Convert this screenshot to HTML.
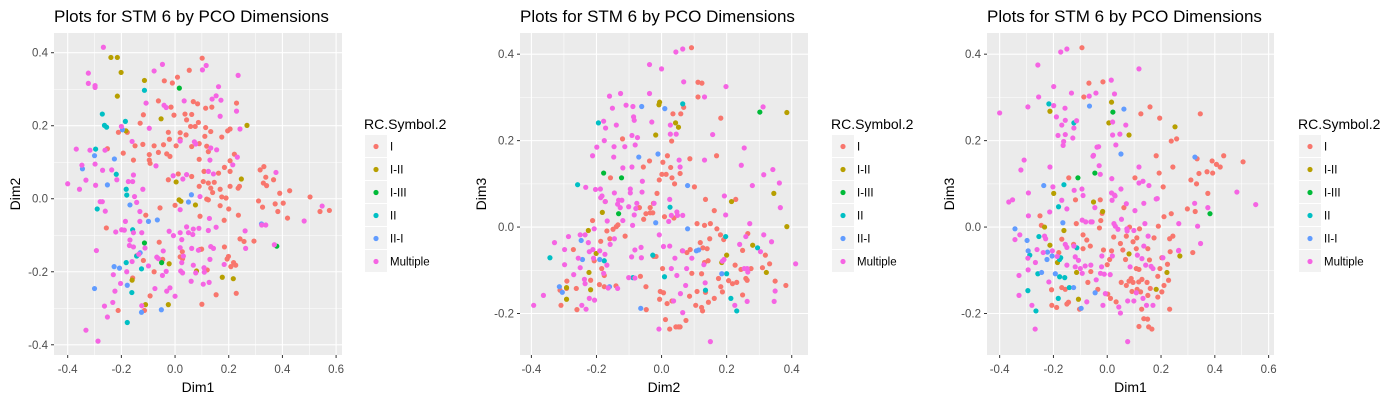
<!DOCTYPE html>
<html><head><meta charset="utf-8">
<style>
html,body{margin:0;padding:0;background:#fff;}
svg{display:block;font-family:"Liberation Sans",Arial,sans-serif;}
</style></head>
<body>
<svg id="chart" width="1400" height="400" viewBox="0 0 1400 400" xmlns="http://www.w3.org/2000/svg"></svg>
<script>
const groups = ["I","I-II","I-III","II","II-I","Multiple"];
const colors = ["#F8766D","#B79F00","#00BA38","#00BFC4","#619CFF","#F564E3"];

// ---- Panel 1: Dim1 vs Dim2 ----
const p1_I = [[0.101,0.385],[0.053,0.352],[0.009,0.333],[-0.04,0.323],[-0.01,0.317],[-0.062,0.268],[-0.015,0.251],[0.068,0.266],[0.084,0.26],[0.114,0.248],[0.137,0.251],[0.229,0.262],[-0.118,0.23],[-0.004,0.229],[0.037,0.232],[0.062,0.231],[0.043,0.216],[0.058,0.198],[0.087,0.209],[0.075,0.198],[0.114,0.195],[-0.13,0.207],[-0.211,0.182],[-0.178,0.182],[-0.025,0.182],[0.019,0.181],[0.041,0.175],[0.111,0.171],[0.133,0.184],[0.174,0.169],[0.196,0.186],[0.205,0.191],[-0.021,0.163],[0.019,0.163],[0.09,0.151],[-0.149,0.145],[-0.12,0.149],[-0.078,0.145],[-0.043,0.148],[0.004,0.145],[0.062,0.143],[0.118,0.144],[-0.193,0.125],[-0.252,0.137],[-0.096,0.121],[-0.062,0.127],[-0.031,0.123],[-0.019,0.116],[0.124,0.129],[0.221,0.122],[-0.155,0.106],[-0.096,0.106],[-0.093,0.097],[0.09,0.108],[0.205,0.104],[0.184,0.086],[0.205,0.075],[0.012,0.068],[0.062,0.061],[0.108,0.075],[0.162,0.07],[-0.025,0.052],[0.09,0.034],[0.105,0.047],[0.124,0.043],[0.146,0.045],[0.133,0.029],[0.14,0.017],[0.168,0.026],[0.205,0.034],[0.24,0.034],[0.235,0.029],[0.118,-0.001],[0.124,-0.003],[0.174,0.005],[0.19,0.002],[0.168,-0.019],[0.2,-0.028],[0,-0.018],[0.093,-0.048],[0.183,-0.059],[0.236,-0.045],[0.317,0.079],[0.331,0.088],[0.338,0.059],[0.329,0.043],[0.341,0.036],[0.367,0.052],[0.39,0.015],[0.427,0.022],[0.311,-0.006],[0.326,-0.023],[0.373,-0.014],[0.403,-0.012],[0.383,-0.035],[0.419,-0.053],[0.503,0.005],[0.54,-0.035],[0.575,-0.032],[0.294,-0.116],[0.242,-0.11],[0.257,-0.117],[-0.256,-0.08],[-0.109,-0.045],[-0.056,-0.025],[-0.143,-0.156],[-0.118,-0.169],[-0.078,-0.2],[-0.093,-0.266],[-0.114,-0.306],[-0.212,-0.306],[-0.158,-0.217],[0.1,-0.289],[0.153,-0.263],[0.228,-0.259],[0.208,-0.186],[0.226,-0.182],[0.218,-0.175],[0.194,-0.165],[0.199,-0.158],[0.184,-0.132],[0.093,-0.139],[0.099,-0.138],[0.12,-0.195],[0.019,-0.159],[0.028,-0.164],[-0.046,-0.166],[-0.059,-0.119],[0.027,-0.145]];
const p1_III = [[-0.239,0.387],[-0.215,0.387],[-0.201,0.346],[-0.215,0.281],[-0.114,0.324],[-0.052,0.219],[0.268,0.201],[0.247,0.054],[0.004,0.046],[0.015,-0.003],[0.022,-0.007],[0.076,-0.017],[0.08,-0.198],[-0.022,-0.178],[0.176,-0.215],[0.217,-0.219],[-0.16,-0.223],[-0.11,-0.29],[-0.025,-0.29],[-0.183,0.186]];
const p1_IIII = [[0.016,0.303],[-0.114,-0.121],[-0.05,-0.175],[0.379,-0.13]];
const p1_II = [[-0.114,0.297],[-0.271,0.232],[-0.263,0.201],[-0.255,0.196],[-0.185,0.212],[-0.296,0.136],[-0.219,0.067],[-0.182,0.026],[-0.18,0.01],[-0.29,-0.028],[-0.158,-0.085],[-0.143,-0.157],[-0.182,-0.175],[-0.125,-0.192],[-0.161,-0.257],[-0.178,-0.339]];
const p1_III2 = [[-0.3,0.118],[-0.226,0.109],[-0.345,0.082],[-0.252,0.038],[-0.196,0.189],[-0.168,-0.017],[-0.099,-0.062],[-0.066,-0.058],[0.061,0.011],[0.05,-0.009],[-0.227,-0.186],[-0.207,-0.19],[-0.178,-0.237],[-0.3,-0.246],[-0.125,-0.311],[-0.051,-0.304],[-0.13,-0.148],[0.322,-0.069]];
const p1_M = [[-0.267,0.415],[-0.323,0.344],[-0.323,0.316],[-0.298,0.31],[-0.298,0.305],[-0.078,0.35],[-0.047,0.368],[0.102,0.353],[0.116,0.365],[0.235,0.338],[-0.108,0.262],[-0.041,0.256],[-0.033,0.25],[0.034,0.268],[0.138,0.273],[0.153,0.282],[0.171,0.27],[0.162,0.307],[0.229,0.24],[0.168,0.226],[0.242,0.191],[-0.2,0.198],[-0.096,0.193],[-0.16,0.157],[-0.368,0.136],[-0.317,0.133],[-0.261,0.133],[0.072,0.156],[0.077,0.15],[0.133,0.139],[0.155,0.134],[0.019,0.158],[-0.347,0.092],[-0.298,0.095],[-0.27,0.078],[-0.236,0.079],[-0.217,0.052],[-0.332,0.051],[-0.4,0.041],[-0.356,0.026],[-0.296,0.037],[-0.071,0.09],[-0.155,0.065],[-0.174,0.047],[-0.158,0.047],[-0.12,0.026],[-0.151,0.006],[-0.143,-0.01],[-0.279,-0.008],[-0.271,-0.008],[-0.26,-0.034],[-0.131,-0.035],[-0.185,-0.062],[-0.131,-0.062],[-0.221,-0.091],[-0.199,-0.085],[-0.189,-0.086],[-0.155,-0.093],[-0.124,-0.093],[-0.168,-0.113],[-0.17,-0.128],[-0.155,-0.132],[-0.112,-0.135],[-0.293,-0.142],[-0.135,-0.152],[-0.16,-0.172],[-0.099,-0.184],[-0.18,-0.2],[-0.23,-0.208],[-0.203,-0.232],[-0.224,-0.253],[-0.232,-0.284],[-0.263,-0.294],[-0.252,-0.324],[-0.332,-0.36],[-0.287,-0.39],[-0.124,-0.293],[-0.075,-0.246],[-0.068,-0.16],[-0.062,-0.164],[-0.044,-0.143],[-0.047,-0.21],[-0.033,-0.199],[-0.031,-0.253],[-0.019,-0.244],[0,-0.267],[-0.022,-0.089],[-0.006,-0.101],[0.019,-0.093],[0.025,-0.112],[0.019,-0.134],[0.031,-0.157],[0.025,-0.175],[0.021,-0.198],[0.028,-0.203],[0.043,-0.077],[0.05,-0.093],[0.066,-0.098],[0.068,-0.083],[0.089,-0.081],[0.062,-0.136],[0.087,-0.141],[0.068,-0.182],[0.077,-0.203],[0.06,-0.226],[0.108,-0.189],[0.109,-0.201],[0.105,-0.234],[0.127,-0.229],[0.13,-0.166],[0.133,-0.131],[0.143,-0.136],[0.124,-0.087],[0.128,-0.054],[0.153,-0.078],[0.183,-0.18],[0.261,-0.088],[0.263,-0.136],[0.029,0.054],[0.043,0.066],[-0.007,0.063],[0.019,-0.03],[0.124,0.075],[0.143,0.068],[0.232,0.114],[0.215,0.093],[0.323,-0.072],[0.338,-0.072],[0.37,-0.126],[0.481,-0.061],[0.548,-0.02],[0.376,0.072],[0.13,0.106],[0.093,0.006]];

// ---- Panel 2: Dim2 vs Dim3 ----
const p2_I = [[0.092,0.415],[0.112,0.335],[0.124,0.333],[0.112,0.301],[0.035,0.262],[0.059,0.262],[0.068,0.277],[0.182,0.252],[0.031,0.199],[-0.12,0.204],[0.018,0.165],[-0.037,0.153],[-0.056,0.139],[0.004,0.15],[-0.007,0.109],[0.001,0.122],[0.014,0.122],[0.028,0.138],[0.032,0.114],[0.04,0.1],[0.057,0.124],[0.087,0.158],[0.101,0.093],[0.169,0.165],[0.135,0.064],[0.162,0.038],[0.228,0.064],[-0.014,0.078],[-0.025,0.055],[-0.035,0.045],[-0.035,0.033],[-0.048,0.031],[-0.027,0.033],[-0.068,0.045],[-0.055,0.018],[0.009,0.024],[0.038,0.021],[-0.157,0.114],[-0.173,0.059],[-0.212,0.015],[-0.168,-0.009],[-0.159,-0.027],[-0.149,-0.005],[-0.139,0.001],[-0.134,0.005],[-0.112,-0.021],[-0.187,-0.033],[-0.207,-0.078],[-0.184,-0.096],[-0.176,-0.112],[-0.191,-0.133],[-0.176,-0.138],[-0.14,-0.136],[-0.218,-0.123],[-0.271,-0.052],[-0.291,-0.125],[-0.312,-0.146],[-0.309,-0.181],[-0.292,-0.142],[-0.262,-0.142],[-0.26,-0.191],[-0.065,-0.114],[-0.048,-0.138],[-0.047,-0.191],[-0.024,-0.068],[-0.017,-0.068],[0.003,-0.096],[-0.004,-0.149],[0.006,-0.152],[-0.006,-0.167],[0.017,-0.177],[0.032,-0.171],[0.012,-0.214],[0.025,-0.236],[0.044,-0.231],[0.052,-0.231],[0.057,-0.231],[0.075,-0.216],[0.086,-0.16],[0.105,-0.181],[0.123,-0.186],[0.126,-0.194],[0.109,-0.149],[0.135,-0.151],[0.144,-0.174],[0.162,-0.165],[0.123,-0.108],[0.093,-0.107],[0.064,-0.055],[0.078,-0.059],[0.088,-0.052],[0.119,-0.036],[0.127,-0.048],[0.14,-0.05],[0.148,-0.027],[0.15,0.008],[0.132,0.004],[0.109,0.008],[0.17,-0.004],[0.181,-0.018],[0.191,-0.029],[0.143,-0.078],[0.132,-0.082],[0.175,-0.119],[0.182,-0.138],[0.187,-0.15],[0.206,-0.124],[0.218,-0.131],[0.231,-0.128],[0.226,-0.088],[0.244,-0.098],[0.249,-0.054],[0.249,-0.157],[0.259,-0.119],[0.263,-0.123],[0.265,-0.015],[0.275,-0.096],[0.319,-0.065],[0.332,-0.085],[0.31,-0.094],[0.349,-0.125],[0.382,-0.135]];
const p2_III = [[-0.006,0.289],[-0.008,0.283],[0.043,0.241],[0.052,0.231],[-0.018,0.213],[0.215,0.059],[0.345,0.078],[0.385,0.265],[0.385,0.001],[-0.225,-0.008],[-0.182,0.034],[-0.201,-0.061],[-0.223,-0.105],[-0.218,-0.145],[-0.292,-0.14],[-0.292,-0.167],[0.2,-0.065],[0.185,-0.082],[0.28,-0.042],[0.322,-0.105]];
const p2_IIII = [[-0.178,0.125],[-0.123,0.114],[-0.132,0.031],[0.302,0.266]];
const p2_II = [[-0.194,0.241],[-0.258,0.098],[-0.343,-0.071],[0.026,0.046],[0.065,0.285],[-0.027,-0.065],[-0.088,-0.117],[0.009,-0.115],[-0.176,-0.078],[0.197,-0.022],[0.2,-0.108],[0.213,-0.165],[0.231,-0.194],[0.295,-0.048],[0.135,-0.146]];
const p2_III2 = [[-0.061,0.279],[0.01,0.274],[-0.07,0.162],[-0.011,0.169],[0.08,0.096],[-0.018,0.01],[0.08,-0.004],[0.107,-0.055],[0.114,-0.053],[-0.247,-0.031],[-0.243,-0.075],[-0.19,-0.075],[-0.314,-0.138],[-0.305,-0.151],[-0.16,-0.138],[-0.064,-0.188],[0.185,-0.108]];
const p2_M = [[0.044,0.405],[0.065,0.412],[-0.037,0.376],[0,0.366],[0.068,0.336],[0.198,0.325],[-0.037,0.309],[-0.126,0.309],[-0.16,0.303],[-0.109,0.282],[-0.088,0.279],[-0.151,0.275],[-0.086,0.255],[-0.084,0.247],[-0.178,0.245],[-0.172,0.229],[-0.139,0.236],[-0.03,0.243],[0.027,0.236],[0.045,0.215],[0.027,0.215],[0.132,0.301],[0.157,0.214],[0.254,0.183],[0.245,0.143],[0.132,0.155],[0.312,0.278],[0.314,0.121],[0.342,0.133],[0.362,0.102],[0.365,0.045],[0.279,0.096],[-0.176,0.2],[-0.199,0.185],[-0.212,0.165],[-0.146,0.186],[-0.113,0.186],[-0.091,0.212],[-0.081,0.19],[-0.074,0.207],[-0.147,0.162],[-0.119,0.137],[-0.091,0.139],[-0.059,0.106],[-0.06,0.081],[-0.096,0.088],[-0.096,0.079],[-0.145,0.079],[-0.233,0.092],[-0.203,0.087],[-0.188,0.088],[-0.187,0.068],[-0.183,0.072],[-0.173,0.059],[-0.132,0.062],[-0.122,0.062],[-0.135,0.053],[-0.127,0.045],[-0.119,0.015],[-0.101,0.047],[-0.084,0.028],[-0.079,0.043],[-0.076,0.055],[-0.023,0.055],[0.054,0.155],[0.057,0.139],[0.025,0.064],[0.047,0.035],[0.049,0.027],[0.03,0.027],[0.022,0.013],[0.065,0.027],[0.193,0.072],[0.197,0.028],[0.271,0.008],[-0.167,0.014],[-0.207,-0.004],[-0.235,-0.018],[-0.25,-0.018],[-0.286,-0.022],[-0.329,-0.036],[-0.298,-0.052],[-0.256,-0.072],[-0.225,-0.036],[-0.222,-0.057],[-0.211,-0.052],[-0.209,-0.072],[-0.19,-0.055],[-0.174,-0.063],[-0.168,-0.088],[-0.158,-0.04],[-0.145,-0.027],[-0.089,0.004],[-0.063,-0.047],[-0.082,-0.053],[-0.092,-0.069],[-0.062,-0.071],[-0.007,-0.018],[0.006,-0.045],[0.025,-0.044],[0.041,-0.072],[0.065,-0.055],[0.093,-0.072],[0.077,-0.096],[0.03,-0.096],[0.047,-0.112],[0.074,-0.135],[0.058,-0.154],[0.037,-0.171],[0.065,-0.198],[-0.008,-0.236],[0.15,-0.265],[0.13,-0.087],[0.134,-0.129],[0.187,-0.079],[0.192,-0.075],[0.24,-0.04],[0.259,-0.022],[0.263,-0.096],[0.265,-0.104],[0.254,-0.096],[0.225,-0.181],[0.263,-0.172],[0.314,-0.018],[0.338,-0.034],[0.304,-0.057],[0.349,-0.148],[0.346,-0.172],[0.412,-0.085],[-0.298,-0.087],[-0.27,-0.11],[-0.25,-0.094],[-0.237,-0.121],[-0.235,-0.131],[-0.222,-0.165],[-0.206,-0.169],[-0.245,-0.181],[-0.232,-0.19],[-0.363,-0.158],[-0.393,-0.181],[-0.164,-0.141],[-0.135,-0.142],[-0.101,-0.117],[-0.082,-0.118],[-0.178,-0.107]];

// ---- Panel 3: Dim1 vs Dim3 ----
const p3_I = [[-0.094,0.415],[-0.068,0.333],[-0.016,0.336],[-0.087,0.301],[0.159,0.278],[0.125,0.262],[0.195,0.252],[0.346,0.262],[0.238,0.199],[0.258,0.204],[0.182,0.165],[0.244,0.139],[0.193,0.125],[0.208,0.093],[0.103,0.114],[0.311,0.109],[0.332,0.1],[0.341,0.124],[0.334,0.158],[0.371,0.128],[0.392,0.125],[0.39,0.153],[0.406,0.145],[0.42,0.139],[0.433,0.165],[0.505,0.151],[0.374,0.078],[0.298,0.042],[0.327,0.036],[0.238,0.031],[0.211,0.024],[0.19,0.002],[0.174,-0.025],[0.232,-0.027],[0.244,-0.021],[0.234,-0.057],[0.203,-0.071],[0.224,-0.086],[0.196,-0.096],[0.188,-0.114],[0.228,-0.123],[0.211,-0.135],[0.203,-0.15],[0.188,-0.162],[0.151,-0.158],[0.16,-0.142],[0.148,-0.128],[0.129,-0.121],[0.117,-0.127],[0.089,-0.119],[0.081,-0.125],[0.096,-0.128],[0.071,-0.135],[0.052,-0.128],[0.092,-0.149],[0.111,-0.144],[0.124,-0.15],[0.128,-0.19],[0.15,-0.213],[0.136,-0.212],[0.166,-0.236],[0.154,-0.231],[0.118,-0.23],[0.232,-0.19],[0.318,-0.059],[0.157,-0.076],[0.108,-0.096],[0.118,-0.098],[0.068,-0.075],[0.058,-0.053],[0.049,-0.038],[0.016,-0.055],[-0.014,-0.053],[0.009,-0.075],[0,-0.087],[-0.029,-0.002],[-0.024,0.015],[-0.019,0.032],[-0.026,0.063],[0.062,0.045],[0.083,0],[0.12,-0.004],[0.11,-0.025],[0.151,-0.05],[0.024,-0.023],[0.071,-0.021],[0.096,-0.034],[0.108,-0.05],[-0.076,-0.03],[-0.063,-0.044],[-0.09,-0.05],[-0.09,-0.018],[-0.115,0.008],[-0.125,-0.04],[-0.143,0.114],[-0.118,0.063],[-0.25,0.026],[-0.245,0.004],[-0.169,-0.028],[-0.18,-0.059],[-0.156,-0.144],[-0.169,-0.14],[-0.207,-0.145],[-0.206,-0.181],[-0.188,-0.186],[-0.15,-0.178],[-0.144,-0.174],[-0.103,-0.19],[-0.072,-0.128],[-0.061,-0.103],[-0.035,-0.144],[0.002,-0.155],[0.012,-0.165],[0.033,-0.173]];
const p3_III = [[0.016,0.289],[0.006,0.241],[-0.213,0.268],[0.081,0.213],[0.252,0.232],[-0.051,0.058],[-0.017,0.036],[-0.199,0.078],[-0.233,0],[-0.161,-0.008],[-0.213,-0.042],[-0.185,-0.082],[-0.114,-0.105],[-0.107,-0.167],[0.081,-0.062],[0.27,-0.067],[0.222,-0.105],[0.182,-0.144]];
const p3_IIII = [[0.021,0.266],[-0.109,0.114],[-0.046,0.125],[0.382,0.031]];
const p3_II = [[-0.217,0.285],[-0.124,0.241],[-0.161,0.098],[-0.181,0.047],[-0.254,-0.022],[-0.288,-0.065],[-0.173,-0.071],[-0.177,-0.075],[-0.113,-0.048],[-0.258,-0.108],[-0.177,-0.115],[-0.158,-0.117],[-0.141,-0.14],[-0.295,-0.147],[-0.182,-0.165],[-0.265,-0.194]];
const p3_III2 = [[-0.066,0.28],[0.062,0.273],[0.051,0.169],[0.326,0.162],[-0.236,0.096],[-0.165,0.01],[-0.343,-0.004],[-0.298,-0.031],[-0.294,-0.055],[-0.222,-0.058],[-0.224,-0.075],[-0.205,-0.067],[-0.244,-0.105],[-0.193,-0.108],[-0.125,-0.14],[-0.045,-0.152],[-0.097,-0.188]];
const p3_M = [[-0.173,0.405],[-0.15,0.412],[-0.258,0.375],[0.118,0.366],[-0.199,0.325],[-0.255,0.301],[-0.133,0.31],[-0.067,0.303],[-0.042,0.31],[0.015,0.34],[-0.4,0.264],[-0.295,0.278],[-0.199,0.281],[-0.157,0.275],[-0.189,0.255],[-0.156,0.247],[-0.169,0.236],[-0.124,0.229],[-0.156,0.214],[-0.183,0.212],[-0.128,0.206],[-0.162,0.198],[-0.164,0.189],[-0.114,0.246],[0.02,0.243],[0.027,0.308],[0.069,0.236],[0.047,0.215],[0.02,0.213],[0.032,0.19],[-0.038,0.185],[-0.032,0.186],[-0.053,0.164],[-0.051,0.166],[-0.03,0.142],[-0.026,0.122],[0.017,0.112],[-0.213,0.139],[-0.309,0.155],[-0.321,0.132],[0.118,0.139],[0.118,0.102],[0.133,0.106],[0.155,0.096],[0.051,0.088],[0.016,0.079],[0.027,0.074],[0.018,0.062],[0.071,0.054],[0.103,0.038],[0.136,0.055],[0.186,0.066],[-0.366,0.058],[-0.352,0.063],[-0.293,0.079],[-0.202,0.093],[-0.169,0.062],[-0.15,0.042],[-0.214,0.035],[-0.293,0.026],[-0.123,0.085],[-0.094,0.088],[-0.09,0.073],[-0.046,0.045],[-0.093,0.016],[-0.08,0.012],[-0.061,0.012],[-0.056,0.012],[0.025,0.008],[0.03,0.002],[0.04,-0.005],[0.053,0.018],[0.073,-0.004],[0.099,-0.008],[0.14,0.008],[0.074,-0.009],[0.266,0.008],[0.336,0.002],[0.325,0.055],[0.374,0.045],[0.482,0.081],[0.552,0.052],[0.347,-0.038],[0.266,-0.054],[-0.325,-0.018],[-0.343,-0.029],[-0.295,-0.072],[-0.294,-0.099],[-0.328,-0.112],[-0.328,-0.158],[-0.28,-0.181],[-0.268,-0.236],[-0.267,-0.082],[-0.261,-0.052],[-0.233,-0.021],[-0.229,-0.027],[-0.238,-0.059],[-0.204,-0.055],[-0.217,-0.127],[-0.186,-0.068],[-0.15,-0.088],[-0.156,-0.04],[-0.15,-0.047],[-0.124,-0.044],[-0.119,-0.069],[-0.107,-0.077],[-0.119,-0.092],[-0.1,-0.096],[-0.093,-0.107],[-0.061,-0.088],[-0.025,-0.107],[-0.011,-0.109],[-0.021,-0.092],[0.011,-0.11],[-0.016,-0.181],[-0.007,-0.154],[0.043,-0.185],[0.049,-0.199],[0.076,-0.265],[0.076,-0.171],[0.085,-0.092],[0.099,-0.171],[0.108,-0.152],[0.112,-0.065],[0.129,-0.073],[0.143,-0.088],[0.133,-0.165],[0.146,-0.181],[0.17,-0.181],[0.17,-0.096],[0.163,-0.091],[0.136,-0.044],[0.152,-0.021],[0.207,-0.071],[0.265,-0.055],[-0.041,-0.122],[0.019,-0.067],[-0.02,-0.067],[-0.082,-0.09],[-0.076,-0.173],[0.182,0.065],[0.029,0.072]];

const p1Series = [p1_I,p1_III,p1_IIII,p1_II,p1_III2,p1_M];
const p2Series = [p2_I,p2_III,p2_IIII,p2_II,p2_III2,p2_M];
const p3Series = [p3_I,p3_III,p3_IIII,p3_II,p3_III2,p3_M];

const xTicks13 = [-0.4,-0.2,0.0,0.2,0.4,0.6];
const xTicks2 = [-0.4,-0.2,0.0,0.2,0.4];
const yTicks1 = [-0.4,-0.2,0.0,0.2,0.4];
const yTicks23 = [-0.2,0.0,0.2,0.4];

const NS = "http://www.w3.org/2000/svg";
const svg = document.getElementById("chart");
function mk(tag, attrs, parent){
  const e = document.createElementNS(NS, tag);
  for (const k in attrs) e.setAttribute(k, attrs[k]);
  (parent||svg).appendChild(e);
  return e;
}

const panels = [
  {key:"dim1-dim2", L:54, R:342, T:33, B:355, xd:[-0.451,0.622], yd:[-0.428,0.454], xt:xTicks13, yt:yTicks1, xlab:"Dim1", ylab:"Dim2", series:p1Series, titleX:54, legX:364, ylabX:20},
  {key:"dim2-dim3", L:520, R:808, T:33, B:355, xd:[-0.435,0.45], yd:[-0.296,0.449], xt:xTicks2, yt:yTicks23, xlab:"Dim2", ylab:"Dim3", series:p2Series, titleX:520, legX:831, ylabX:486},
  {key:"dim1-dim3", L:987, R:1274, T:33, B:355, xd:[-0.447,0.62], yd:[-0.296,0.449], xt:xTicks13, yt:yTicks23, xlab:"Dim1", ylab:"Dim3", series:p3Series, titleX:987, legX:1298, ylabX:954}
];

panels.forEach(function(p, pi){
  const g = mk("g", {});
  
  
  const sx = v => p.L + (v - p.xd[0]) / (p.xd[1] - p.xd[0]) * (p.R - p.L);
  const sy = v => p.B - (v - p.yd[0]) / (p.yd[1] - p.yd[0]) * (p.B - p.T);

  const bg = mk("rect", {x:p.L, y:p.T, width:p.R-p.L, height:p.B-p.T, fill:"#EBEBEB"}, g);
  
  

  // minor grid
  const step = 0.2;
  for (let i = 0; i < p.xt.length + 1; i++) {
    const v = p.xt[0] - 0.1 + i * step;
    if (v > p.xd[0] && v < p.xd[1]) {
      const ln = mk("line", {x1:sx(v), x2:sx(v), y1:p.T, y2:p.B, stroke:"#fff", "stroke-width":0.55}, g);
      
      
    }
  }
  for (let i = 0; i < p.yt.length + 1; i++) {
    const v = p.yt[0] - 0.1 + i * step;
    if (v > p.yd[0] && v < p.yd[1]) {
      const ln = mk("line", {x1:p.L, x2:p.R, y1:sy(v), y2:sy(v), stroke:"#fff", "stroke-width":0.55}, g);
      
      
    }
  }
  // major grid, ticks, labels
  p.xt.forEach(function(v){
    const X = sx(v);
    const ln = mk("line", {x1:X, x2:X, y1:p.T, y2:p.B, stroke:"#fff", "stroke-width":1.1}, g);
    
    
    const tk = mk("line", {x1:X, x2:X, y1:p.B, y2:p.B+3, stroke:"#333", "stroke-width":1}, g);
    
    
    const t = mk("text", {x:X, y:p.B+18, "text-anchor":"middle", "font-size":"11.5", fill:"#4D4D4D"}, g);
    
    
    t.textContent = v.toFixed(1);
  });
  p.yt.forEach(function(v){
    const Y = sy(v);
    const ln = mk("line", {x1:p.L, x2:p.R, y1:Y, y2:Y, stroke:"#fff", "stroke-width":1.1}, g);
    
    
    const tk = mk("line", {x1:p.L-3, x2:p.L, y1:Y, y2:Y, stroke:"#333", "stroke-width":1}, g);
    
    
    const t = mk("text", {x:p.L-6, y:Y+4, "text-anchor":"end", "font-size":"11.5", fill:"#4D4D4D"}, g);
    
    
    t.textContent = v.toFixed(1);
  });

  // points
  p.series.forEach(function(pts, gi){
    const sg = mk("g", {fill:colors[gi]}, g);
    
    
    pts.forEach(function(d){
      const c = mk("circle", {cx:sx(d[0]), cy:sy(d[1]), r:2.6}, sg);
      
      
    });
  });

  // title
  const tt = mk("text", {x:p.titleX, y:22, "font-size":"17", fill:"#000"}, g);
  
  
  tt.textContent = "Plots for STM 6 by PCO Dimensions";

  // axis titles
  const xl = mk("text", {x:(p.L+p.R)/2, y:392, "text-anchor":"middle", "font-size":"14", fill:"#000"}, g);
  
  
  xl.textContent = p.xlab;
  const cy = (p.T+p.B)/2;
  const yl = mk("text", {x:p.ylabX, y:cy, "text-anchor":"middle", "font-size":"14", fill:"#000", transform:"rotate(-90 "+p.ylabX+" "+cy+")"}, g);
  
  
  yl.textContent = p.ylab;

  // legend
  const lg = mk("g", {}, g);
  
  
  const lt = mk("text", {x:p.legX, y:129, "font-size":"14", fill:"#000"}, lg);
  
  
  lt.textContent = "RC.Symbol.2";
  groups.forEach(function(name, gi){
    const top = 135 + gi * 23;
    const eg = mk("g", {}, lg);
    
    
    mk("rect", {x:p.legX+1, y:top, width:22, height:22, fill:"#F2F2F2"}, eg);
    mk("circle", {cx:p.legX+12, cy:top+11.5, r:2.6, fill:colors[gi]}, eg);
    const et = mk("text", {x:p.legX+26, y:top+15.5, "font-size":"11.5", fill:"#000"}, eg);
    et.textContent = name;
  });
});
</script>
</body></html>
